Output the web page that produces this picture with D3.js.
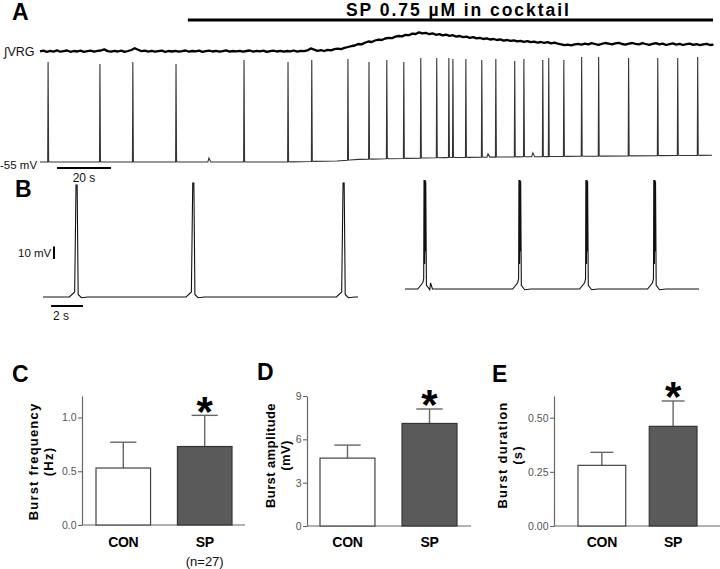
<!DOCTYPE html>
<html><head><meta charset="utf-8">
<script src="https://cdn.jsdelivr.net/npm/d3@7/dist/d3.min.js"></script>
<style>html,body{margin:0;padding:0;background:#fff;}svg{display:block;}</style>
</head><body>
<svg id="fig" width="720" height="569"></svg>
<script>
// ---------------- Panel A data ----------------
const spikeTimesA = [3.0,22.2,34.4,50.4,75.6,91.9,100.7,114.1,121.9,128.5,134.8,141.1,147.0,151.5,153.0,157.8,163.7,168.9,175.9,179.3,186.3,188.5,194.1,200.7,207.0,218.1,228.9,236.3,243.7];
const spikePeaksA = [22,20.5,22,20.5,23.5,22,23.5,24.3,22,23.5,22,25.1,25.1,25.1,24.3,24.3,23.5,24.3,22.8,24.3,23.5,25.1,23.5,25.8,25.8,25.1,25.1,25.1,25.8];
const baselineTimesA = [0,90,110,118,150,200,249];
const baselineValuesA = [-55,-55,-54.2,-53,-51.6,-50.6,-49.8];
const epspTimesA = [62.6,166,182.6];
const epspHeightsA = [3,2.5,3];
const drugWindowA = [54.8,249];
const vrgStep = 1.254;
const vrgValues = [
 0.6,1.4,0.2,1.1,0.4,1.6,0.3,0.9,1.5,0.2,1.0,0.5,1.3,0.1,0.8,1.4,0.4,1.1,1.5,2.6,
 0.9,0.3,1.2,0.5,1.4,0.2,1.0,2.0,3.8,2.2,0.8,1.3,0.4,1.1,0.3,0.9,1.4,0.2,1.0,0.5,
 1.2,0.4,0.9,1.5,0.3,1.0,0.6,1.3,0.2,0.8,1.4,0.5,1.1,0.3,0.9,1.6,0.4,1.0,0.6,1.2,
 0.3,1.0,1.5,0.4,1.1,0.6,1.3,0.2,0.9,1.4,0.5,1.2,0.3,1.0,0.7,1.5,0.4,1.1,0.8,1.6,
 3.6,2.4,1.2,1.8,1.0,2.2,1.6,2.8,3.4,2.9,4.2,5.0,5.8,6.5,8.0,7.6,9.2,10.5,10.0,11.5,
 12.4,12.0,13.5,14.2,13.8,15.4,16.0,15.6,17.2,16.8,18.4,18.0,19.6,18.6,19.2,17.8,18.6,17.2,17.8,16.6,
 17.4,16.2,16.8,15.4,16.0,14.8,15.3,14.2,14.8,13.6,14.1,13.0,13.6,12.5,13.0,12.0,12.6,11.4,12.0,11.2,
 11.6,10.6,11.2,10.2,10.8,9.8,10.4,9.4,10.0,9.2,9.8,8.6,9.4,8.4,7.6,6.8,7.4,6.6,7.6,8.2,
 7.4,8.4,7.6,8.8,8.0,7.2,8.2,9.0,8.4,7.6,8.6,9.2,8.0,7.4,8.4,9.0,8.2,7.6,8.8,8.0,
 7.2,8.2,8.8,7.6,8.4,7.0,7.8,8.6,7.4,8.2,7.0,7.8,8.4,7.2,7.8,6.8,7.6,8.2,7.0,7.4];

// ---------------- Panel B data ----------------
const controlSpikeTimes = [2.1,9.4,18.8];
const controlSpikePeaks = [34.6,36.2,36.2];
const controlBaseline = -55;
const controlDuration = 19.7;
const spSpikeTimes = [1.25,7.19,11.38,15.63];
const spSpikePeaks = [38.6,38.6,38.6,38.6];
const spBaseline = -48.6;
const spDuration = 18.4;
const spBumpTimes = [1.6];
const spBumpHeights = [4.8];

// ---------------- Bar chart data ----------------
const categories = ["CON","SP"];
const freqMean = [0.53,0.73], freqSem = [0.24,0.29], freqTicks = [0,0.5,1.0];
const ampMean  = [4.7,7.1],   ampSem  = [0.9,1.0],   ampTicks  = [0,3,6,9];
const durMean  = [0.28,0.46], durSem  = [0.06,0.117], durTicks = [0,0.25,0.5];

// ---------------- drawing ----------------
const FONT = '"Liberation Sans", Arial, Helvetica, sans-serif';
const NARROW = '"Liberation Sans Narrow", "Arial Narrow", "Liberation Sans", Arial, sans-serif';
const svg = d3.select("#fig").style("font-family", FONT);

function panelLabel(t, x, y){
  svg.append("text").attr("x",x).attr("y",y).text(t)
    .attr("font-size",23).attr("font-weight","bold").attr("fill","#000");
}

// ---- Panel A ----
panelLabel("A", 12, 20);
const tA = d3.scaleLinear().domain([0,249]).range([40,712]);
const vA = d3.scaleLinear().domain([-55,22]).range([162,62]);
const baseA = d3.scaleLinear().domain(baselineTimesA).range(baselineValuesA).clamp(true);

svg.append("line").attr("x1",tA(drugWindowA[0])).attr("x2",tA(drugWindowA[1])+1)
  .attr("y1",20).attr("y2",20).attr("stroke","#000").attr("stroke-width",3);
svg.append("text").attr("x",346).attr("y",15.5).text("SP 0.75 µM in cocktail")
  .attr("font-size",17.5).attr("font-weight","bold").attr("letter-spacing",1.95);

const vrgY = d3.scaleLinear().domain([0,20]).range([52,32]);
svg.append("path")
  .attr("d", d3.line().x((d,i)=>tA(i*vrgStep)).y(d=>vrgY(d))(vrgValues))
  .attr("fill","none").attr("stroke","#000").attr("stroke-width",2.3).attr("stroke-linejoin","round");
svg.append("text").attr("x",4).attr("y",55.5).text("∫VRG").attr("font-size",12.5).attr("fill","#111");

let ptsA = baselineTimesA.map((t,i)=>[t, baselineValuesA[i]]);
spikeTimesA.forEach((t,i)=>{
  ptsA.push([t-0.15, baseA(t-0.15)], [t, spikePeaksA[i]], [t+0.2, baseA(t+0.2)+0.3], [t+0.8, baseA(t+0.8)]);
});
epspTimesA.forEach((t,i)=>{
  ptsA.push([t-0.4, baseA(t-0.4)], [t, baseA(t)+epspHeightsA[i]], [t+0.7, baseA(t+0.7)]);
});
ptsA.sort((a,b)=>a[0]-b[0]);
svg.append("path")
  .attr("d", d3.line().x(d=>tA(d[0])).y(d=>vA(d[1]))(ptsA))
  .attr("fill","none").attr("stroke","#333").attr("stroke-width",1.1);
svg.append("text").attr("x",0).attr("y",169).text("-55 mV").attr("font-size",11.5).attr("fill","#111");
svg.append("line").attr("x1",57).attr("x2",57+(tA(20)-tA(0))).attr("y1",168).attr("y2",168)
  .attr("stroke","#000").attr("stroke-width",2);
svg.append("text").attr("x",57+(tA(20)-tA(0))/2).attr("y",181.5).attr("text-anchor","middle")
  .text("20 s").attr("font-size",12).attr("fill","#111");

// ---- Panel B ----
panelLabel("B", 15, 197);
const vB = d3.scaleLinear().domain([-55,40]).range([297,178.25]);
function burstTrace(xScale, base, times, peaks, thick, bumpT, bumpH){
  let pts = [[0,base],[xScale.domain()[1],base]];
  times.forEach((t,i)=>{
    if(!thick){
      pts.push([t-0.45,base],[t-0.12,base+4],[t-0.035,peaks[i]],[t+0.035,peaks[i]],
               [t+0.1,base+2],[t+0.3,base-0.6],[t+0.7,base]);
    } else {
      pts.push([t-0.45,base],[t-0.14,base+5],[t-0.08,base+8],[t-0.06,peaks[i]],[t-0.02,base+20],
               [t+0.01,peaks[i]],[t+0.03,base+30],[t+0.05,peaks[i]-1],[t+0.09,base+3],
               [t+0.3,base-0.6],[t+0.7,base]);
    }
  });
  (bumpT||[]).forEach((t,i)=>{ pts.push([t-0.08,base],[t,base+bumpH[i]],[t+0.12,base]); });
  pts.sort((a,b)=>a[0]-b[0]);
  svg.append("path")
    .attr("d", d3.line().x(d=>xScale(d[0])).y(d=>vB(d[1]))(pts))
    .attr("fill","none").attr("stroke","#111").attr("stroke-width",1.1);
}
const tB1 = d3.scaleLinear().domain([0,controlDuration]).range([43,358]);
const tB2 = d3.scaleLinear().domain([0,spDuration]).range([405,699]);
burstTrace(tB1, controlBaseline, controlSpikeTimes, controlSpikePeaks, false);
burstTrace(tB2, spBaseline, spSpikeTimes, spSpikePeaks, true, spBumpTimes, spBumpHeights);
const mv10 = vB(-55)-vB(-45);
svg.append("line").attr("x1",54).attr("x2",54).attr("y1",259).attr("y2",259-mv10)
  .attr("stroke","#000").attr("stroke-width",2);
svg.append("text").attr("x",18).attr("y",257).text("10 mV").attr("font-size",11.5).attr("fill","#111");
svg.append("line").attr("x1",51).attr("x2",51+(tB1(2)-tB1(0))).attr("y1",306).attr("y2",306)
  .attr("stroke","#000").attr("stroke-width",2);
svg.append("text").attr("x",53).attr("y",320).text("2 s").attr("font-size",12).attr("fill","#111");

// ---- Bar panels ----
const panels = [
  {lab:"C", lx:12, ly:382, mean:freqMean, sem:freqSem, ticks:freqTicks, fmt:d3.format(".1f"), max:1.2,
   ax:82, xEnd:245, y0:525, yTop:396, bars:[96,232], title:["Burst frequency","(Hz)"], tx:[33.5,48.5], ty:461.5, ls:1.2, note:"(n=27)"},
  {lab:"D", lx:257, ly:380, mean:ampMean, sem:ampSem, ticks:ampTicks, fmt:d3.format("d"), max:9,
   ax:307, xEnd:471, y0:526, yTop:396, bars:[320,457], title:["Burst amplitude","(mV)"], tx:[270,285], ty:455.5, ls:0.4},
  {lab:"E", lx:492, ly:382, mean:durMean, sem:durSem, ticks:durTicks, fmt:d3.format(".2f"), max:0.6,
   ax:554, xEnd:720, y0:526, yTop:396, bars:[578,697], title:["Burst duration","(s)"], tx:[502,517], ty:455, ls:1.25}
];
panels.forEach(p=>{
  panelLabel(p.lab, p.lx, p.ly);
  const y = d3.scaleLinear().domain([0,p.max]).range([p.y0,p.yTop]);
  const x = d3.scaleBand().domain(categories).range(p.bars).paddingInner(0.33).paddingOuter(0);
  const g = svg.append("g");
  const axis = g.append("g").attr("transform",`translate(${p.ax},0)`)
    .call(d3.axisLeft(y).tickValues(p.ticks).tickFormat(p.fmt).tickSize(4).tickSizeOuter(0).tickPadding(1.5));
  axis.select(".domain").attr("stroke","#666").attr("stroke-width",1.2);
  axis.selectAll(".tick line").attr("stroke","#666").attr("stroke-width",1.1);
  axis.selectAll(".tick text").attr("fill","#555").attr("font-size",10.5).attr("font-family",NARROW);
  g.append("line").attr("x1",p.ax).attr("x2",p.xEnd).attr("y1",p.y0).attr("y2",p.y0)
    .attr("stroke","#666").attr("stroke-width",1.2);
  categories.forEach((c,i)=>{
    const cx = x(c)+x.bandwidth()/2;
    const cw = x.bandwidth()*0.24;
    g.append("line").attr("x1",cx).attr("x2",cx).attr("y1",y(p.mean[i])).attr("y2",y(p.mean[i]+p.sem[i]))
      .attr("stroke","#666").attr("stroke-width",1.4);
    g.append("line").attr("x1",cx-cw).attr("x2",cx+cw).attr("y1",y(p.mean[i]+p.sem[i])).attr("y2",y(p.mean[i]+p.sem[i]))
      .attr("stroke","#666").attr("stroke-width",1.4);
  });
  g.selectAll("rect.bar").data(categories).join("rect")
    .attr("x",c=>x(c)).attr("width",x.bandwidth())
    .attr("y",(c,i)=>y(p.mean[i])).attr("height",(c,i)=>p.y0-y(p.mean[i]))
    .attr("fill",(c,i)=>i===0?"#fff":"#5a5a5a")
    .attr("stroke",(c,i)=>i===0?"#444":"#333").attr("stroke-width",1.2);
  const sx = x("SP")+x.bandwidth()/2;
  g.append("text").attr("x",sx).attr("y",y(p.mean[1]+p.sem[1])-9+19.2).attr("text-anchor","middle")
    .text("*").attr("font-size",42).attr("font-weight","bold");
  categories.forEach(c=>{
    g.append("text").attr("x",x(c)+x.bandwidth()/2).attr("y",546.5).attr("text-anchor","middle")
      .text(c).attr("font-size",14).attr("font-weight","bold").attr("letter-spacing",-0.3);
  });
  if(p.note){
    g.append("text").attr("x",x("SP")+x.bandwidth()/2).attr("y",565.5).attr("text-anchor","middle")
      .text(p.note).attr("font-size",13).attr("fill","#111");
  }
  p.title.forEach((t,k)=>{
    g.append("text").attr("transform",`translate(${p.tx[k]},${p.ty}) rotate(-90)`)
      .attr("text-anchor","middle").attr("dominant-baseline","central")
      .text(t).attr("font-size",13).attr("font-weight","bold").attr("letter-spacing",p.ls);
  });
});
</script>
</body></html>
